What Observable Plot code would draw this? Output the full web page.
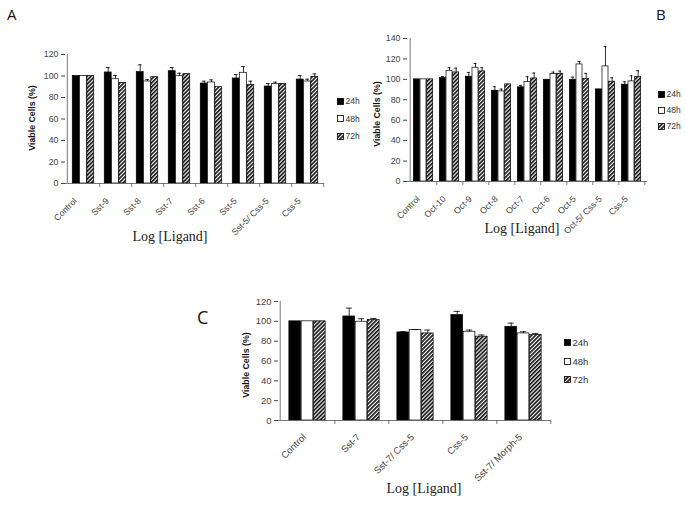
<!DOCTYPE html>
<html>
<head>
<meta charset="utf-8">
<script src="https://cdn.jsdelivr.net/npm/d3@7"></script>
<script src="https://cdn.jsdelivr.net/npm/@observablehq/plot@0.6"></script>
<style>
  html, body { margin: 0; padding: 0; background: #fff; }
  #wrap { position: relative; width: 685px; height: 513px; overflow: hidden; font-family: "Liberation Sans", Arial, sans-serif; }
  #wrap svg.plotsvg { position: absolute; }
  .abs { position: absolute; white-space: nowrap; }
  .letter { font-family: "Open Sans", "Liberation Sans", sans-serif; color: #111; }
  .ylab { font-weight: bold; font-size: 8.8px; color: #111; transform: translate(-50%, -50%) rotate(-90deg); }
  .xtitle { font-family: "Liberation Serif", "Times New Roman", serif; font-size: 14px; color: #222; transform: translate(-50%, 0); }
  .leg { font-size: 8px; color: #333; display: flex; align-items: center; }
  .leg svg { margin-right: 1.5px; }
</style>
</head>
<body>
<svg width="0" height="0" style="position:absolute">
  <defs>
    <pattern id="hatch" patternUnits="userSpaceOnUse" width="2.8" height="2.8" patternTransform="rotate(45)">
      <rect width="2.8" height="2.8" fill="#fff"></rect>
      <line x1="0.8" y1="0" x2="0.8" y2="2.8" stroke="#111" stroke-width="1.7"></line>
    </pattern>
  </defs>
</svg>
<div id="wrap"></div>
<script>
// ---------- DATA ----------
const series = ["24h", "48h", "72h"];

const catsA = ["Control", "Sst-9", "Sst-8", "Sst-7", "Sst-6", "Sst-5", "Sst-5/ Css-5", "Css-5"];
const a24 = [100, 103.3, 103.6, 104.5, 93, 97.7, 90.2, 96.7];
const a48 = [100, 97, 94.9, 99.8, 94, 103, 92.4, 94.9];
const a72 = [100, 93.6, 98.9, 101.7, 89.6, 91.5, 92.7, 99.2];
const aErr24 = [0, 4.6, 6.8, 3.4, 2.2, 3.7, 2.8, 3.8];
const aErr48 = [0, 3.5, 1.8, 2.8, 2.4, 5.8, 1.9, 2.1];
const aErr72 = [0, 0, 0, 0, 0, 3.7, 0, 2.8];
const yTicksA = [0, 20, 40, 60, 80, 100, 120];

const catsB = ["Control", "Oct-10", "Oct-9", "Oct-8", "Oct-7", "Oct-6", "Oct-5", "Oct-5/ Css-5", "Css-5"];
const b24 = [100, 101.3, 102.6, 88.9, 92.2, 99.6, 99.6, 90.2, 94.8];
const b48 = [100, 108.4, 111.4, 88.2, 97.4, 105.2, 114.6, 112.7, 98];
const b72 = [100, 106.8, 107.8, 95.1, 100.9, 105.5, 100.3, 97.7, 102.2];
const bErr24 = [0, 1.5, 4.2, 3.9, 1.9, 0, 2.6, 0, 2.9];
const bErr48 = [0, 3, 4.2, 2.3, 5.2, 1.9, 2.9, 19.5, 5.5];
const bErr72 = [0, 4.2, 3.6, 0, 5.3, 2.6, 5.5, 3.9, 6.2];
const yTicksB = [0, 20, 40, 60, 80, 100, 120, 140];

const catsC = ["Control", "Sst-7", "Sst-7/ Css-5", "Css-5", "Sst-7/ Morph-5"];
const c24 = [100, 104.9, 88.8, 106.3, 94.5];
const c48 = [100, 99.6, 91.2, 89.5, 87.8];
const c72 = [100, 101.2, 87.8, 84.5, 86.2];
const cErr24 = [0, 8.4, 0.8, 3.7, 3.7];
const cErr48 = [0, 3, 0.5, 1.7, 1.7];
const cErr72 = [0, 1.7, 3.4, 1.7, 1.6];
const yTicksC = [0, 20, 40, 60, 80, 100, 120];

const panelLetters = ["A", "B", "C"];
const yTitle = "Viable Cells (%)";
const xTitle = "Log [Ligand]";

// ---------- DRAW ----------
const fills = ["#000", "#fff", "url(#hatch)"];
const wrap = document.getElementById("wrap");

function panel(cfg) {
  const {cats, vals, errs, yTicks, left, top, width, height, mL, mR, mT, mB, fontSize} = cfg;
  const band = (width - mL - mR) / cats.length;
  const frameH = height - mT - mB;
  const bw = band * cfg.barFrac;
  const ins = (band - bw) / 2;
  const capIns = (band - bw * 0.55) / 2;
  const marks = [];
  series.forEach((s, k) => {
    const rows = cats.map((c, i) => ({cat: c, v: vals[k][i], e: errs[k][i]}));
    const dx = (k - 1) * bw;
    marks.push(Plot.barY(rows, {x: "cat", y: "v", fill: fills[k], stroke: "#000", strokeWidth: 0.7, insetLeft: ins, insetRight: ins, dx}));
    const er = rows.filter(d => d.e > 0);
    marks.push(Plot.ruleX(er, {x: "cat", y1: "v", y2: d => d.v + d.e, dx, stroke: "#000", strokeWidth: 0.8}));
    marks.push(Plot.tickY(er, {x: "cat", y: d => d.v + d.e, dx, insetLeft: capIns, insetRight: capIns, stroke: "#000", strokeWidth: 0.8}));
  });
  // category boundary ticks on x axis
  marks.push(Plot.ruleX(cats, {x: d => d, dx: band / 2, insetTop: frameH, insetBottom: -4, stroke: "#555", strokeWidth: 0.8}));
  marks.push(Plot.ruleY([0], {stroke: "#555", strokeWidth: 0.8}));
  marks.push(Plot.ruleX(cats.slice(0, 1), {x: d => d, dx: -band / 2, stroke: "#555", strokeWidth: 0.8}));

  const svg = Plot.plot({
    width, height,
    marginLeft: mL, marginRight: mR, marginTop: mT, marginBottom: mB,
    style: {background: "transparent", overflow: "visible", fontSize: fontSize + "px", fontFamily: "'Liberation Sans', Arial, sans-serif", color: "#444"},
    x: {type: "band", domain: cats, padding: 0, tickSize: 0, tickRotate: -45, tickPadding: cfg.tickPad, label: null},
    y: {domain: [yTicks[0], yTicks[yTicks.length - 1]], ticks: yTicks, tickSize: 4, tickPadding: 3, label: null},
    marks
  });
  // nudge the x tick labels slightly left, as in the original figure
  svg.querySelectorAll('g[aria-label^="x-axis"]').forEach(g => {
    if (g.querySelector("text")) {
      const t = g.getAttribute("transform") || "";
      g.setAttribute("transform", `translate(${cfg.labelDx},0) ` + t);
    }
  });
  svg.classList.add("plotsvg");
  svg.style.left = left + "px";
  svg.style.top = top + "px";
  wrap.appendChild(svg);
}

panel({cats: catsA, vals: [a24, a48, a72], errs: [aErr24, aErr48, aErr72], yTicks: yTicksA,
  left: 0, top: 40, width: 330, height: 200, mL: 65, mR: 6, mT: 14, mB: 57, fontSize: 8.8, barFrac: 0.225, tickPad: 16, labelDx: -8});
panel({cats: catsB, vals: [b24, b48, b72], errs: [bErr24, bErr48, bErr72], yTicks: yTicksB,
  left: 345, top: 25, width: 310, height: 205, mL: 62, mR: 8, mT: 13, mB: 49, fontSize: 8.8, barFrac: 0.25, tickPad: 16, labelDx: -5});
panel({cats: catsC, vals: [c24, c48, c72], errs: [cErr24, cErr48, cErr72], yTicks: yTicksC,
  left: 215, top: 290, width: 345, height: 200, mL: 63, mR: 9, mT: 11, mB: 70, fontSize: 9.5, barFrac: 0.225, tickPad: 15, labelDx: -3});

function addText(cls, text, x, y, extra) {
  const d = document.createElement("div");
  d.className = "abs " + cls;
  d.textContent = text;
  d.style.left = x + "px";
  d.style.top = y + "px";
  if (extra) Object.assign(d.style, extra);
  wrap.appendChild(d);
}
addText("letter", panelLetters[0], 7, 4, {fontSize: "15px"});
addText("letter", panelLetters[1], 656, 4, {fontSize: "15px"});
addText("letter", panelLetters[2], 197, 305, {fontSize: "18px"});

addText("ylab", yTitle, 32, 118);
addText("ylab", yTitle, 377, 114);
addText("ylab", yTitle, 246, 365);

addText("xtitle", xTitle, 170, 229);
addText("xtitle", xTitle, 522, 221);
addText("xtitle", xTitle, 424, 481);

function legend(x, y, gap, fs) {
  series.forEach((s, k) => {
    const d = document.createElement("div");
    d.className = "abs leg";
    d.style.left = x + "px";
    d.style.top = (y + k * gap) + "px";
    d.style.fontSize = fs + "px";
    d.innerHTML = `<svg width="7" height="7"><rect x="0.5" y="0.5" width="6" height="6" fill="${fills[k]}" stroke="#000" stroke-width="0.8"></rect></svg>`;
    d.appendChild(document.createTextNode(s));
    wrap.appendChild(d);
  });
}
legend(337, 96, 17.5, 8.5);
legend(658, 89, 16, 8.5);
legend(564, 337, 18.5, 9.5);
</script>
</body>
</html>
